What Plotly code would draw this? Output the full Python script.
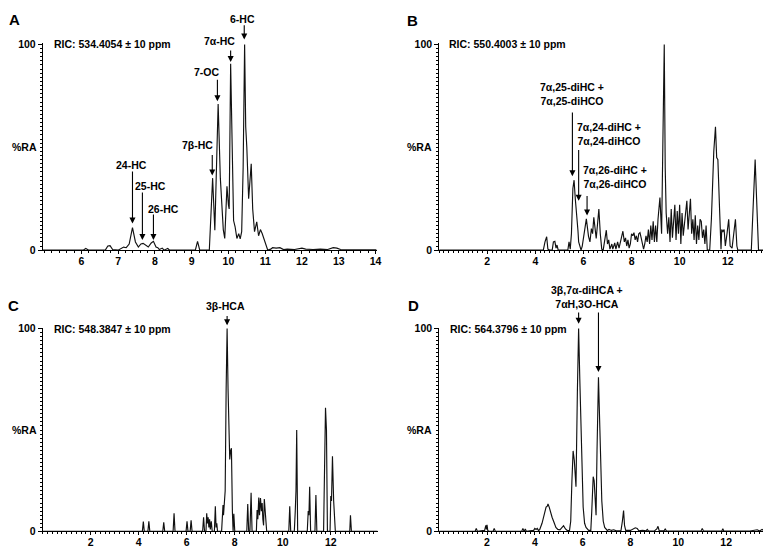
import plotly.graph_objects as go

# ---------------- data (retention time in min, relative abundance %) ----------------
rt_a = [4.95, 6.05, 6.12, 6.2, 6.65, 6.72, 6.78, 6.85, 7.0, 7.08, 7.15, 7.22, 7.3, 7.39, 7.47, 7.55,
        7.62, 7.68, 7.75, 7.82, 7.9, 7.96, 8.03, 8.08, 8.12, 8.2, 8.25, 8.35, 8.4, 9.1, 9.16, 9.22,
        9.48, 9.52, 9.57, 9.63, 9.68, 9.72, 9.78, 9.86, 9.9, 9.93, 9.96, 10.0, 10.02, 10.06, 10.1,
        10.14, 10.18, 10.23, 10.28, 10.32, 10.36, 10.4, 10.44, 10.47, 10.5, 10.55, 10.62, 10.66,
        10.71, 10.77, 10.82, 10.87, 10.92, 11.0, 11.07, 11.15, 11.2, 11.3, 11.4, 11.5, 11.6, 11.8,
        11.9, 12.0, 12.1, 12.3, 12.5, 12.7, 12.85, 12.95, 13.05, 13.3, 14.03]
ra_a = [0.0, 0.0, 0.8, 0.0, 0.0, 2.0, 2.2, 0.3, 0.0, 1.0, 1.5, 1.2, 3.0, 11.0, 4.0, 1.5,
        3.0, 3.3, 2.5, 1.5, 3.5, 4.3, 1.5, 1.2, 0.3, 1.0, 0.0, 0.8, 0.0, 0.0, 4.3, 0.0,
        0.0, 15.0, 35.0, 9.7, 45.0, 71.0, 35.0, 10.0, 5.7, 20.0, 31.0, 22.0, 20.0, 90.6, 40.0,
        14.4, 11.5, 5.7, 8.0, 5.5, 9.0, 40.0, 100.0, 60.0, 50.0, 25.0, 42.0, 20.0,
        9.0, 13.8, 7.0, 10.0, 8.0, 3.5, 0.0, 0.5, 1.2, 1.0, 1.2, 0.3, 0.5, 0.3,
        0.8, 1.0, 0.5, 0.3, 0.5, 0.3, 1.2, 1.0, 0.3, 0.2, 0.2]

rt_b = [0.0, 4.33, 4.4, 4.47, 4.52, 4.6, 4.7, 4.75, 4.81, 4.86, 4.9, 4.95, 5.35, 5.4, 5.45, 5.5,
        5.56, 5.61, 5.66, 5.72, 5.77, 5.8, 5.84, 5.9, 5.95, 6.02, 6.12, 6.21, 6.27, 6.33, 6.38,
        6.43, 6.48, 6.53, 6.58, 6.64, 6.7, 6.76, 6.82, 6.88, 6.95, 7.0, 7.05, 7.1, 7.18, 7.22,
        7.3, 7.35, 7.42, 7.48, 7.55, 7.64, 7.7, 7.75, 7.8, 7.85, 7.9, 7.95, 8.0, 8.05, 8.1, 8.15,
        8.2, 8.25, 8.3, 8.35, 8.4, 8.45, 8.5, 8.55, 8.6, 8.65, 8.7, 8.75, 8.8, 8.85, 8.9, 8.95,
        9.0, 9.05, 9.1, 9.18, 9.25, 9.3, 9.36, 9.4, 9.44, 9.5, 9.55, 9.6, 9.65, 9.7, 9.75, 9.8,
        9.85, 9.9, 9.95, 10.0, 10.05, 10.1, 10.15, 10.2, 10.25, 10.3, 10.35, 10.4, 10.45, 10.5,
        10.55, 10.6, 10.65, 10.7, 10.75, 10.8, 10.85, 10.9, 10.95, 11.0, 11.05, 11.1, 11.15,
        11.25, 11.32, 11.42, 11.49, 11.54, 11.59, 11.66, 11.72, 11.75, 11.8, 11.85, 11.9, 11.97,
        12.04, 12.1, 12.18, 12.25, 12.32, 12.38, 12.42, 12.98, 13.06, 13.14, 13.2, 13.28, 13.8]
ra_b = [0.0, 0.0, 4.0, 6.5, 0.5, 0.0, 0.0, 4.0, 4.3, 1.0, 2.5, 0.0, 0.0, 4.0, 0.5, 8.0,
        30.0, 34.0, 25.0, 18.0, 9.7, 4.0, 2.5, 0.0, 2.0, 8.0, 15.2, 6.7, 4.0, 10.5, 8.0,
        16.0, 10.0, 5.7, 12.0, 20.0, 8.0, 0.5, 0.0, 4.0, 9.7, 3.0, 5.0, 0.5, 3.0, 0.5,
        3.5, 0.5, 4.0, 1.0, 5.0, 9.2, 4.0, 6.0, 2.0, 5.0, 1.0, 3.0, 8.0, 7.0, 8.5, 5.0,
        7.0, 4.0, 8.0, 8.5, 6.0, 3.0, 0.5, 3.0, 7.0, 4.0, 10.0, 3.0, 12.0, 5.0, 14.0, 4.0,
        12.0, 4.0, 15.0, 25.6, 8.0, 50.0, 100.0, 40.0, 18.0, 8.0, 16.0, 4.0, 20.0, 6.0, 16.0, 22.0,
        5.0, 19.0, 8.0, 22.0, 3.0, 18.0, 7.0, 14.0, 20.0, 24.0, 10.0, 18.0, 25.0, 8.0,
        15.0, 5.0, 17.0, 3.0, 12.0, 5.0, 15.0, 14.0, 6.0, 10.0, 3.0, 12.0, 0.0,
        0.0, 15.0, 48.0, 60.0, 45.0, 44.0, 20.0, 0.5, 10.0, 9.0, 10.0, 2.0, 8.0,
        15.0, 2.0, 1.0, 8.0, 15.0, 2.0, 0.0, 0.0, 25.0, 44.0, 25.0, 0.0, 0.0]

rt_c = [0.0, 4.15, 4.19, 4.23, 4.38, 4.42, 4.46, 5.0, 5.04, 5.08, 5.43, 5.47, 5.51, 5.97, 6.01,
        6.05, 6.14, 6.18, 6.22, 6.66, 6.7, 6.74, 6.8, 6.83, 6.86, 6.89, 6.92, 6.95, 6.98, 7.02,
        7.06, 7.15, 7.19, 7.22, 7.25, 7.28, 7.45, 7.48, 7.51, 7.53, 7.56, 7.6, 7.64, 7.68, 7.72,
        7.76, 7.79, 7.83, 7.86, 7.9, 7.93, 7.96, 8.0, 8.5, 8.54, 8.58, 8.63, 8.68, 8.72, 8.9,
        8.93, 8.96, 9.0, 9.03, 9.07, 9.11, 9.14, 9.17, 9.2, 9.23, 9.27, 9.3, 9.33, 10.25, 10.29,
        10.33, 10.48, 10.52, 10.55, 10.58, 10.62, 11.02, 11.06, 11.09, 11.12, 11.16, 11.34, 11.38,
        11.42, 11.7, 11.74, 11.78, 11.82, 11.86, 11.97, 12.0, 12.03, 12.07, 12.12, 12.15, 12.19,
        12.79, 12.82, 12.86, 13.95]
ra_c = [0.0, 0.0, 4.8, 0.0, 0.0, 5.0, 0.0, 0.0, 4.5, 0.0, 0.0, 9.0, 0.0, 0.0, 5.0,
        0.0, 0.0, 5.5, 0.0, 0.0, 7.0, 0.0, 0.0, 9.0, 4.0, 7.0, 2.0, 6.0, 1.0, 5.0,
        0.0, 0.0, 12.4, 2.0, 4.0, 0.0, 0.0, 10.0, 13.0, 8.0, 13.0, 20.0, 70.0, 100.0, 70.0,
        38.0, 35.5, 40.0, 41.0, 10.0, 0.0, 8.7, 0.0, 0.0, 13.5, 0.0, 0.0, 19.0, 0.0, 0.0,
        10.5, 6.0, 16.7, 8.0, 16.5, 10.0, 14.0, 6.0, 3.0, 16.0, 9.0, 9.0, 0.0, 0.0, 12.4,
        0.0, 0.0, 10.0, 20.0, 50.0, 0.0, 0.0, 10.0, 8.0, 22.0, 0.0, 0.0, 18.0,
        0.0, 0.0, 50.0, 61.0, 50.0, 0.0, 0.0, 17.5, 15.0, 37.0, 15.0, 7.0, 0.0,
        0.0, 8.0, 0.0, 0.0]

rt_d = [0.0, 1.5, 1.55, 1.6, 1.9, 1.95, 1.98, 2.0, 2.03, 2.1, 2.25, 2.3, 2.35, 3.45, 3.5, 3.55,
        3.6, 3.65, 3.95, 4.0, 4.05, 4.1, 4.15, 4.2, 4.3, 4.4, 4.47, 4.52, 4.55, 4.6, 4.66, 4.72,
        4.8, 4.88, 4.96, 5.05, 5.12, 5.2, 5.28, 5.37, 5.45, 5.5, 5.55, 5.6, 5.65, 5.72, 5.78,
        5.83, 5.88, 5.95, 6.02, 6.08, 6.14, 6.25, 6.34, 6.38, 6.44, 6.48, 6.53, 6.56, 6.6, 6.66,
        6.72, 6.8, 6.86, 6.92, 7.03, 7.1, 7.2, 7.3, 7.4, 7.6, 7.66, 7.71, 7.75, 7.8, 8.0, 8.1,
        8.2, 8.28, 8.35, 8.5, 8.65, 8.7, 8.75, 9.0, 9.1, 9.15, 9.2, 9.4, 9.45, 9.5, 10.0, 10.95,
        11.0, 11.05, 11.82, 11.86, 11.9, 13.0, 13.3, 13.4, 13.5, 13.6, 13.75, 13.85, 14.0]
ra_d = [0.0, 0.0, 1.5, 0.0, 0.5, 3.0, 1.0, 3.2, 0.5, 0.0, 0.0, 1.5, 0.0, 0.0, 1.5, 0.0,
        1.2, 0.0, 0.5, 1.5, 1.0, 1.5, 0.5, 0.8, 4.0, 9.0, 12.0, 12.5, 13.5, 12.0, 9.0, 7.0,
        4.5, 2.0, 1.0, 0.8, 1.8, 2.8, 1.2, 0.3, 0.5, 5.0, 25.0, 39.7, 35.0, 22.0, 70.0,
        100.0, 75.0, 35.0, 12.0, 4.0, 2.0, 0.5, 0.5, 10.0, 27.0, 25.0, 12.0, 8.0, 40.0, 76.0,
        50.0, 15.0, 5.0, 2.0, 0.5, 1.0, 0.5, 0.8, 0.3, 0.3, 5.0, 10.3, 3.0, 0.5, 0.5, 1.0,
        1.8, 1.5, 0.3, 0.5, 0.3, 1.0, 0.3, 0.2, 1.2, 2.5, 0.3, 0.3, 1.2, 0.3, 0.2, 0.2,
        1.5, 0.2, 0.2, 1.3, 0.2, 0.2, 0.8, 0.2, 1.0, 0.3, 1.0, 0.3, 0.2]

panel_letters = ["A", "B", "C", "D"]
ric_labels = ["RIC: 534.4054 ± 10 ppm", "RIC: 550.4003 ± 10 ppm",
              "RIC: 548.3847 ± 10 ppm", "RIC: 564.3796 ± 10 ppm"]
xticks_a = [6, 7, 8, 9, 10, 11, 12, 13, 14]
xticks_bcd = [2, 4, 6, 8, 10, 12]

# peak labels: (panel, label, label_x, label_y, arrow_x, arrow_tail_y, arrow_head_y)  [y in %RA units]
peak_labels = [
    (0, "6-HC", 10.39, 112.5, 10.43, 110.0, 102.4),
    (0, "7α-HC", 9.76, 101.8, 10.06, 97.8, 91.4),
    (0, "7-OC", 9.43, 86.7, 9.70, 83.5, 72.4),
    (0, "7β-HC", 9.16, 51.0, 9.56, 47.0, 36.3),
    (0, "24-HC", 7.37, 41.4, 7.39, 39.0, 12.9),
    (0, "25-HC", 7.88, 31.0, 7.66, 28.7, 4.9),
    (0, "26-HC", 8.23, 20.0, 7.96, 18.0, 4.9),
    (1, "7α,25-diHC +<br>7α,25-diHCO", 5.51, 75.9, 5.54, 67.6, 35.9),
    (1, "7α,24-diHC +<br>7α,24-diHCO", 7.08, 56.3, 5.80, 49.4, 24.0),
    (1, "7α,26-diHC +<br>7α,26-diHCO", 7.33, 35.7, 6.15, 27.1, 16.8),
    (2, "3β-HCA", 7.60, 111.0, 7.68, 107.0, 101.6),
    (3, "3β,7α-diHCA +<br>7αH,3O-HCA", 6.20, 115.7, 5.83, 108.7, 102.4),
    (3, "", None, None, 6.66, 108.7, 78.6),
]

# ---------------- layout geometry ----------------
W, H = 771, 550
YMAX = 100.5
x_domains = [[35 / W, 371 / W], [434 / W, 768 / W], [35 / W, 372 / W], [434 / W, 1.0]]
y_domains = [[(H - 242) / H, (H - 31) / H], [(H - 242) / H, (H - 31) / H],
             [(H - 529) / H, (H - 321) / H], [(H - 529) / H, (H - 321) / H]]
x_ranges = [[4.95, 14.03], [0, 13.8], [0, 13.95], [0, 14.0]]
ric_x = [0.027, 0.023, 0.028, 0.025]
letter_pos = [(7, 7), (407, 8), (6, 298), (408, 298)]
ra_x = [-0.056, -0.06, -0.056, -0.06]

FONT = "Liberation Sans, Arial, Helvetica, sans-serif"
LINE = "#111111"

series = [(rt_a, ra_a), (rt_b, ra_b), (rt_c, ra_c), (rt_d, ra_d)]

fig = go.Figure()
for i, (rt, ra) in enumerate(series):
    fig.add_trace(go.Scatter(x=rt, y=ra, mode="lines",
                             line=dict(color=LINE, width=1.15),
                             xaxis=f"x{i + 1}", yaxis=f"y{i + 1}",
                             showlegend=False, hoverinfo="skip"))

layout = dict(width=W, height=H, margin=dict(l=0, r=0, t=0, b=0),
              paper_bgcolor="white", plot_bgcolor="white", showlegend=False,
              font=dict(family=FONT, color="black"))

tickfont = dict(family=FONT, size=10.5, color="black", weight="bold")
for i in range(4):
    n = i + 1
    xt = xticks_a if i == 0 else xticks_bcd
    layout[f"xaxis{n}"] = dict(
        domain=x_domains[i], range=x_ranges[i], anchor=f"y{n}",
        tickmode="array", tickvals=xt, ticktext=[str(v) for v in xt],
        ticks="outside", ticklen=3, tickwidth=1, tickcolor="black",
        ticklabelstandoff=-2,
        minor=dict(ticks="outside", ticklen=2, tickcolor="black", tickmode="linear",
                   tick0=0, dtick=0.2, showgrid=False),
        showline=True, linecolor="black", linewidth=1,
        showgrid=False, zeroline=False, tickfont=tickfont, fixedrange=True)
    layout[f"yaxis{n}"] = dict(
        domain=y_domains[i], range=[0, YMAX], anchor=f"x{n}",
        tickmode="array", tickvals=[0, 100], ticktext=["0", "100"],
        ticks="outside", ticklen=4, tickwidth=1, tickcolor="black",
        minor=dict(ticks="outside", ticklen=2, tickcolor="black", tickmode="linear",
                   tick0=0, dtick=2, showgrid=False),
        showline=True, linecolor="black", linewidth=1,
        showgrid=False, zeroline=False, tickfont=tickfont, fixedrange=True)

annotations = []
for i in range(4):
    n = i + 1
    xr = "x" if n == 1 else f"x{n}"
    yr = "y" if n == 1 else f"y{n}"
    annotations.append(dict(text=ric_labels[i], xref=f"{xr} domain", yref=f"{yr} domain",
                            x=ric_x[i], y=100 / YMAX, xanchor="left", yanchor="middle",
                            showarrow=False, font=dict(size=10.5, weight="bold")))
    annotations.append(dict(text="%RA", xref=f"{xr} domain", yref=f"{yr} domain",
                            x=ra_x[i], y=50 / YMAX, xanchor="center", yanchor="middle",
                            showarrow=False, font=dict(size=10.5, weight="bold")))
    lx, ly = letter_pos[i]
    annotations.append(dict(text=panel_letters[i], xref="paper", yref="paper",
                            x=lx / W, y=1 - ly / H, xanchor="center", yanchor="middle",
                            showarrow=False, font=dict(size=15, weight="bold")))

for (p, label, lx, ly, axx, tail, head) in peak_labels:
    n = p + 1
    xr = "x" if n == 1 else f"x{n}"
    yr = ("y" if n == 1 else f"y{n}") + " domain"
    if label:
        annotations.append(dict(text=label, xref=xr, yref=yr, x=lx, y=ly / YMAX,
                                xanchor="center", yanchor="middle", showarrow=False,
                                font=dict(size=10.5, weight="bold")))
    annotations.append(dict(text="", xref=xr, yref=yr, x=axx, y=head / YMAX,
                            axref=xr, ayref=yr, ax=axx, ay=tail / YMAX,
                            showarrow=True, arrowhead=2, arrowsize=1.1,
                            arrowwidth=1.1, arrowcolor="black"))

layout["annotations"] = annotations
fig.update_layout(**layout)
fig.write_html("out.html")
